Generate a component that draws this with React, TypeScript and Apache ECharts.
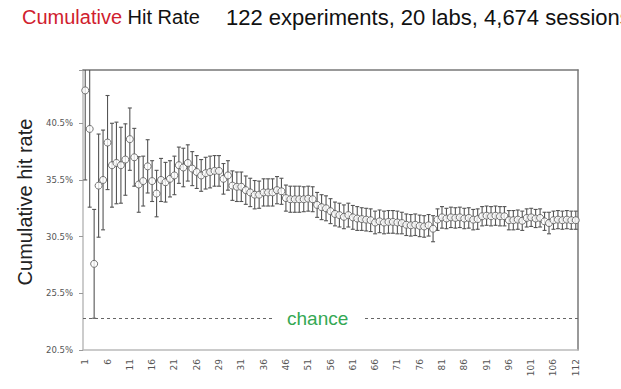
import React, { useEffect, useRef } from 'react';
import * as echarts from 'echarts';

const tickLabels = ['1', '6', '11', '16', '21', '26', '29', '31', '36', '46', '51', '56', '61', '66', '71', '76', '81', '86', '91', '96', '101', '106', '112'];

const values = [
  43.4, 40.0, 28.1, 35.0, 35.5, 38.8, 36.8, 37.0, 36.8, 37.3,
  39.1, 37.5, 35.1, 35.4, 36.7, 35.4, 34.3, 35.5, 35.3, 35.6,
  35.9, 36.8, 36.6, 37.0, 36.5, 36.2, 35.9, 36.1, 36.2, 36.3,
  36.3, 35.6, 35.9, 35.0, 34.9, 34.9, 34.6, 34.4, 34.2, 34.2,
  34.4, 34.4, 34.4, 34.6, 34.5, 33.9, 33.8, 33.8, 33.8, 33.8,
  33.85, 33.8, 33.3, 33.1, 33.0, 32.75, 32.5, 32.4, 32.25, 32.4,
  32.2, 32.1, 32.05, 32.0, 31.95, 31.75, 31.85, 31.75, 31.8, 31.8,
  31.75, 31.7, 31.55, 31.5, 31.55, 31.45, 31.4, 31.5, 31.2, 32.0,
  32.2, 32.1, 32.2, 32.15, 32.2, 32.1, 32.15, 32.0, 32.05, 32.3,
  32.35, 32.3, 32.35, 32.3, 32.3, 31.95, 31.95, 32.0, 31.9, 32.15,
  32.2, 32.1, 32.15, 31.85, 31.7, 31.95, 32.0, 31.95, 32.0, 31.95,
  31.95,
];

const errors = [
  7.9, 6.9, 4.8, 4.55, 4.4, 4.15, 3.7, 3.6, 3.35, 3.15,
  2.75, 2.55, 2.45, 2.2, 2.35, 1.8, 2.05, 1.9, 1.75, 1.6,
  1.7, 1.6, 1.7, 1.6, 1.5, 1.45, 1.4, 1.4, 1.4, 1.35,
  1.35, 1.35, 1.3, 1.3, 1.3, 1.3, 1.25, 1.25, 1.25, 1.2,
  1.2, 1.2, 1.2, 1.2, 1.15, 1.15, 1.15, 1.15, 1.15, 1.1,
  1.1, 1.1, 1.1, 1.1, 1.1, 1.1, 1.05, 1.05, 1.05, 1.05,
  1.05, 1.05, 1.0, 1.0, 1.0, 1.0, 1.0, 1.0, 1.0, 1.0,
  1.0, 0.95, 0.95, 0.95, 0.95, 0.95, 0.95, 0.95, 1.15, 0.95,
  0.95, 0.9, 0.9, 0.9, 0.9, 0.9, 0.9, 0.9, 0.9, 0.85,
  0.85, 0.85, 0.85, 0.85, 0.85, 0.85, 0.85, 0.85, 0.85, 0.8,
  0.8, 0.8, 0.8, 0.8, 0.95, 0.8, 0.8, 0.8, 0.8, 0.8,
  0.8,
];

const chanceLevel = 23.3;
const yMin = 20.5;
const yMax = 45.2;
const yStep = 5;

export default function App() {
  const ref = useRef<HTMLDivElement>(null);

  useEffect(() => {
    const chart = echarts.init(ref.current!, null, { renderer: 'svg' });
    const categories = values.map((_, i) => (i % 5 === 0 ? tickLabels[i / 5] : '·' + i));
    const barData = values.map((v, i) => [i, v - errors[i], v + errors[i]]);
    const pointData = values.map((v, i) => [i, v]);

    chart.setOption({
      animation: false,
      backgroundColor: '#ffffff',
      title: [
        {
          left: 22,
          top: 7,
          padding: 0,
          text: '{r|Cumulative} Hit Rate',
          textStyle: {
            fontFamily: 'Liberation Sans',
            fontSize: 20,
            fontWeight: 'normal',
            color: '#111',
            rich: { r: { color: '#d0202e', fontSize: 20, fontFamily: 'Liberation Sans' } },
          },
        },
        {
          left: 226,
          top: 6,
          padding: 0,
          text: '122 experiments, 20 labs, 4,674 sessions',
          textStyle: { fontFamily: 'Liberation Sans', fontSize: 22, fontWeight: 'normal', color: '#111' },
        },
      ],
      grid: { left: 83, right: 43, top: 70, bottom: 39 },
      xAxis: [
        {
          type: 'category',
          data: categories,
          boundaryGap: true,
          axisLine: { lineStyle: { color: '#bbbbbb', width: 1.5 } },
          axisTick: { interval: 4, alignWithLabel: true, length: 4, lineStyle: { color: '#999' } },
          axisLabel: { interval: 4, rotate: 90, fontSize: 9, color: '#555', fontFamily: 'DejaVu Sans', margin: 9 },
          splitLine: { show: false },
        },
        {
          type: 'category',
          position: 'top',
          data: categories,
          axisLine: { lineStyle: { color: '#777', width: 1.5 } },
          axisTick: { show: false },
          axisLabel: { show: false },
          splitLine: { show: false },
        },
      ],
      yAxis: [
        {
          type: 'value',
          min: yMin,
          max: yMax,
          interval: yStep,
          axisLine: { show: true, lineStyle: { color: '#bbbbbb', width: 1.5 } },
          axisTick: { show: true, length: 4, lineStyle: { color: '#999' } },
          splitLine: { show: false },
          axisLabel: {
            formatter: (v: number) => {
              const k = (v - yMin) / yStep;
              return Math.abs(k - Math.round(k)) < 1e-6 ? v.toFixed(1) + '%' : '';
            },
            fontSize: 8.5,
            color: '#555',
            fontFamily: 'DejaVu Sans',
            margin: 10,
          },
          name: 'Cumulative hit rate',
          nameLocation: 'middle',
          nameGap: 46,
          nameRotate: 90,
          nameTextStyle: { fontFamily: 'Liberation Sans', fontSize: 20, color: '#222', padding: [0, 0, 0, 16] },
        },
        {
          type: 'value',
          position: 'right',
          min: yMin,
          max: yMax,
          interval: yStep,
          axisLine: { show: true, lineStyle: { color: '#777', width: 1.5 } },
          axisTick: { show: false },
          axisLabel: { show: false },
          splitLine: { show: false },
        },
      ],
      series: [
        {
          type: 'custom',
          xAxisIndex: 0,
          yAxisIndex: 0,
          data: barData,
          encode: { x: 0, y: [1, 2] },
          clip: true,
          z: 2,
          silent: true,
          renderItem: (params: any, api: any) => {
            const x = api.value(0);
            const lo = api.coord([x, api.value(1)]);
            const hi = api.coord([x, api.value(2)]);
            const w = 2;
            const style = { stroke: '#555', lineWidth: 1.1 };
            return {
              type: 'group',
              children: [
                { type: 'line', shape: { x1: lo[0], y1: lo[1], x2: hi[0], y2: hi[1] }, style },
                { type: 'line', shape: { x1: lo[0] - w, y1: lo[1], x2: lo[0] + w, y2: lo[1] }, style },
                { type: 'line', shape: { x1: hi[0] - w, y1: hi[1], x2: hi[0] + w, y2: hi[1] }, style },
              ],
            };
          },
        },
        {
          type: 'scatter',
          xAxisIndex: 0,
          yAxisIndex: 0,
          data: pointData,
          symbol: 'circle',
          symbolSize: 7,
          z: 3,
          silent: true,
          itemStyle: { color: '#ffffff', borderColor: '#555', borderWidth: 1 },
          markLine: {
            silent: true,
            symbol: 'none',
            animation: false,
            lineStyle: { type: [3, 3], color: '#666', width: 1 },
            label: {
              show: true,
              formatter: 'chance',
              position: 'insideStart',
              distance: [189, 0],
              color: '#34a853',
              fontSize: 19,
              fontFamily: 'Liberation Sans',
              backgroundColor: '#ffffff',
              padding: [1, 15],
            },
            data: [{ yAxis: chanceLevel }],
          },
        },
      ],
    });

    return () => chart.dispose();
  }, []);

  return <div ref={ref} style={{ position: 'fixed', left: 0, top: 0, width: 621, height: 389 }} />;
}
